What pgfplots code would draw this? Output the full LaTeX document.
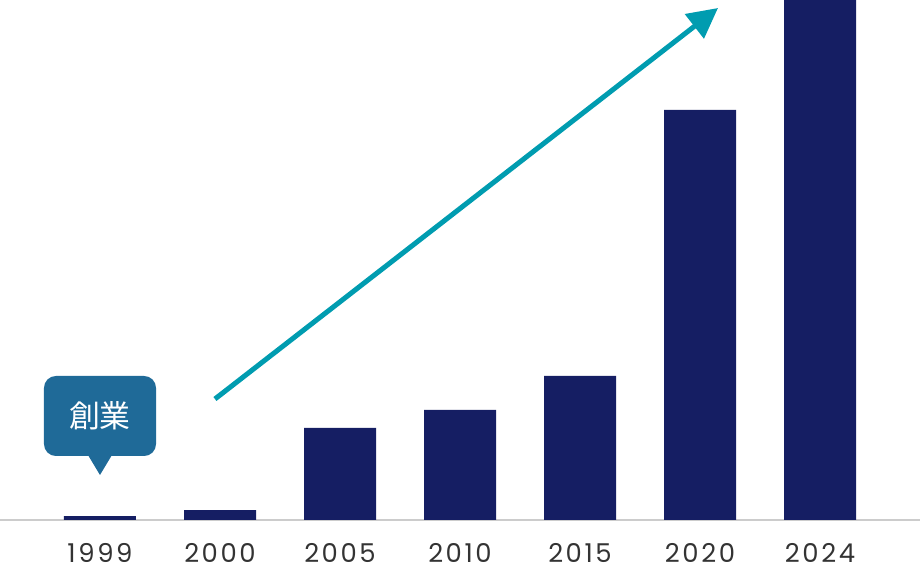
\documentclass[border=0pt]{standalone}
\usepackage{pgfplots}
\pgfplotsset{compat=1.18}
\usetikzlibrary{arrows.meta}
\usepackage{fontspec}
\setmainfont{Poppins}
\newfontfamily\tickfont[LetterSpace=10]{Poppins}
\newfontfamily\cjk{Noto Sans CJK JP}
\definecolor{navy}{HTML}{151E63}
\definecolor{teal2}{HTML}{009CB0}
\definecolor{callout}{HTML}{1F6A98}
\definecolor{tickgray}{HTML}{333333}
\begin{document}
\begin{tikzpicture}
\begin{axis}[
  at={(0,0)}, anchor=south west,
  scale only axis, width=920bp, height=520bp,
  xmin=-0.8333, xmax=6.8333, ymin=0, ymax=520,
  axis x line=bottom, axis y line=none,
  x axis line style={-, draw=black!20, line width=2bp},
  xtick=data, xticklabels={1999,2000,2005,2010,2015,2020,2024},
  major tick length=0pt, ytick=\empty,
  xticklabel style={font=\tickfont\fontsize{26}{26}\selectfont, text=tickgray, anchor=base, inner sep=0pt, yshift=-42bp},
  ybar, bar width=0.6, bar shift=0pt,
  clip=true,
]
\addplot[fill=navy, draw=none] coordinates {(0,4) (1,10) (2,92) (3,110) (4,144) (5,410) (6,560)};
\fill[callout, rounded corners=12bp] (axis cs:-0.467,64) rectangle (axis cs:0.467,144);
\fill[callout] (axis cs:-0.1,65) -- (axis cs:0,45) -- (axis cs:0.1,65) -- cycle;
\node[text=white, font=\cjk\fontsize{31}{31}\selectfont] at (axis cs:0,104) {創業};
\draw[teal2, line width=5bp, -{Triangle[length=30bp,width=30bp]}] (axis cs:0.958,121) -- (axis cs:5.15,512);
\end{axis}
\pgfresetboundingbox
\path[use as bounding box] (0,-46bp) rectangle (920bp,520bp);
\end{tikzpicture}
\end{document}
